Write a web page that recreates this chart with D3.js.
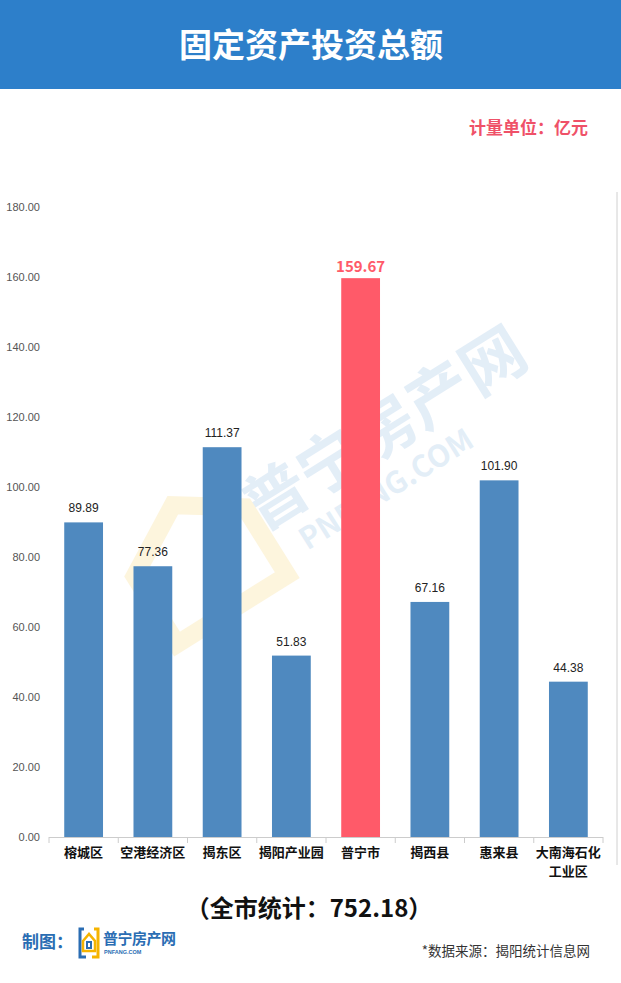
<!DOCTYPE html>
<html>
<head>
<meta charset="utf-8">
<script src="https://cdn.jsdelivr.net/npm/d3@7"></script>
<style>
  html, body { margin: 0; padding: 0; background: #fff; }
  svg { display: block; }
</style>
</head>
<body>
<div id="chart"></div>
<script>
const categories = ["榕城区", "空港经济区", "揭东区", "揭阳产业园", "普宁市", "揭西县", "惠来县", "大南海石化工业区"];
const values = [89.89, 77.36, 111.37, 51.83, 159.67, 67.16, 101.90, 44.38];
const highlight = "普宁市";
const yTicks = [0, 20, 40, 60, 80, 100, 120, 140, 160, 180];
const titleText = "固定资产投资总额";
const unitText = "计量单位：亿元";
const totalText = "（全市统计：752.18）";
const sourceText = "*数据来源：揭阳统计信息网";

const W = 621, H = 983;
const font = "'Noto Sans CJK SC', 'Noto Sans', sans-serif";
const svg = d3.select("#chart").append("svg").attr("width", W).attr("height", H);

// header
svg.append("rect").attr("x", 0).attr("y", 0).attr("width", W).attr("height", 89).attr("fill", "#2d7fca");
svg.append("text").attr("x", 311).attr("y", 57).attr("text-anchor", "middle")
  .attr("font-family", font).attr("font-weight", "bold").attr("font-size", 33)
  .attr("fill", "#fff").text(titleText);

svg.append("text").attr("x", 588).attr("y", 134).attr("text-anchor", "end")
  .attr("font-family", font).attr("font-weight", "bold").attr("font-size", 17)
  .attr("fill", "#ef5168").text(unitText);

// watermark (faint)
const wm = svg.append("g").attr("transform", "translate(300,520) rotate(-32)").attr("opacity", 0.13);
wm.append("text").attr("x", -40).attr("y", -10).attr("font-family", font).attr("font-weight", "bold")
  .attr("font-size", 64).attr("fill", "#2d7fca").text("普宁房产网");
wm.append("text").attr("x", -10).attr("y", 30).attr("font-family", font).attr("font-weight", "bold")
  .attr("font-size", 30).attr("fill", "#2d7fca").text("PNFANG.COM");
wm.append("path").attr("d", "M-170,-40 L-100,-80 L-40,-40 L-40,40 L-170,40 Z")
  .attr("fill", "none").attr("stroke", "#f5b400").attr("stroke-width", 18);

// scales
const margin = {left: 49, right: 603, top: 207, bottom: 837};
const x = d3.scaleBand().domain(categories).range([margin.left, margin.right]).paddingInner(0.44).paddingOuter(0.22);
const y = d3.scaleLinear().domain([0, 180]).range([margin.bottom, margin.top]);

// y axis labels
const yAxis = d3.axisLeft(y).tickValues(yTicks).tickFormat(d3.format(".2f")).tickSize(0).tickPadding(9);
const yg = svg.append("g").attr("transform", `translate(${margin.left},0)`).call(yAxis);
yg.select(".domain").remove();
yg.selectAll("text").attr("font-family", "'Liberation Sans', Arial, sans-serif").attr("font-size", 11).attr("fill", "#555");

// right border line
svg.append("line").attr("x1", 617).attr("x2", 617).attr("y1", 192).attr("y2", 865)
  .attr("stroke", "#d0d0d0").attr("stroke-width", 1);

// bars
svg.append("g").selectAll("rect").data(categories).join("rect")
  .attr("x", d => x(d))
  .attr("width", x.bandwidth())
  .attr("y", (d, i) => y(values[i]))
  .attr("height", (d, i) => y(0) - y(values[i]))
  .attr("fill", d => d === highlight ? "#ff5a69" : "#4f89bf");

// value labels
svg.append("g").selectAll("text").data(categories).join("text")
  .attr("x", d => x(d) + x.bandwidth() / 2)
  .attr("y", (d, i) => y(values[i]) - (d === highlight ? 6 : 10))
  .attr("text-anchor", "middle")
  .attr("font-family", d => d === highlight ? font : "'Liberation Sans', Arial, sans-serif")
  .attr("font-weight", d => d === highlight ? "bold" : "normal")
  .attr("font-size", d => d === highlight ? 15 : 12)
  .attr("fill", d => d === highlight ? "#ff5a69" : "#222")
  .text((d, i) => values[i].toFixed(2));

// x axis
svg.append("line").attr("x1", margin.left).attr("x2", margin.right).attr("y1", y(0) + 0.5).attr("y2", y(0) + 0.5)
  .attr("stroke", "#ccc");
const bounds = d3.range(categories.length + 1).map(i => margin.left + i * (margin.right - margin.left) / categories.length);
svg.append("g").selectAll("line").data(bounds).join("line")
  .attr("x1", d => d).attr("x2", d => d).attr("y1", y(0)).attr("y2", y(0) + 6)
  .attr("stroke", "#ccc");

const xl = svg.append("g").selectAll("text").data(categories).join("text")
  .attr("x", d => x(d) + x.bandwidth() / 2)
  .attr("y", 857)
  .attr("text-anchor", "middle")
  .attr("font-family", font).attr("font-weight", "bold").attr("font-size", 13).attr("fill", "#111");
xl.each(function(d) {
  const t = d3.select(this);
  if (d.length > 5) {
    t.append("tspan").attr("x", x(d) + x.bandwidth() / 2).attr("dy", 0).text(d.slice(0, 5));
    t.append("tspan").attr("x", x(d) + x.bandwidth() / 2).attr("dy", 19).text(d.slice(5));
  } else {
    t.text(d);
  }
});

// total
svg.append("text").attr("x", 309).attr("y", 917).attr("text-anchor", "middle")
  .attr("font-family", font).attr("font-weight", "bold").attr("font-size", 24).attr("fill", "#111")
  .text(totalText);

// credit
svg.append("text").attr("x", 22).attr("y", 948)
  .attr("font-family", font).attr("font-weight", "bold").attr("font-size", 17).attr("fill", "#2a6db3")
  .text("制图：");
const logo = svg.append("g").attr("transform", "translate(78,927)");
logo.append("path").attr("d", "M6,2 L2,2 L2,30 L8,30").attr("fill", "none").attr("stroke", "#2a6db3").attr("stroke-width", 3);
logo.append("path").attr("d", "M16,2 L20,2 L20,30 L14,30").attr("fill", "none").attr("stroke", "#f5b400").attr("stroke-width", 3);
logo.append("path").attr("d", "M5,14 L11,7 L17,14 L17,24 L5,24 Z").attr("fill", "none").attr("stroke", "#f5b400").attr("stroke-width", 2.5);
logo.append("rect").attr("x", 9).attr("y", 15).attr("width", 4).attr("height", 6).attr("fill", "none").attr("stroke", "#2a6db3").attr("stroke-width", 2);
svg.append("text").attr("x", 103).attr("y", 944)
  .attr("font-family", font).attr("font-weight", "bold").attr("font-size", 15).attr("fill", "#2a6db3")
  .attr("textLength", 73).text("普宁房产网");
svg.append("text").attr("x", 104).attr("y", 954)
  .attr("font-family", "'Liberation Sans', Arial, sans-serif").attr("font-weight", "bold").attr("font-size", 5.5).attr("fill", "#2a6db3")
  .text("PNFANG.COM");

svg.append("text").attr("x", 590).attr("y", 956).attr("text-anchor", "end")
  .attr("font-family", font).attr("font-size", 13.5).attr("fill", "#333")
  .text(sourceText);
</script>
</body>
</html>
